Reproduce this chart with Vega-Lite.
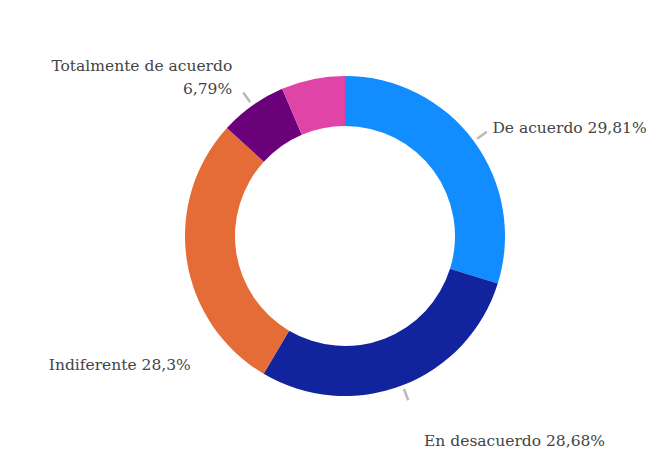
{
  "$schema": "https://vega.github.io/schema/vega-lite/v6.json",
  "width": 618,
  "height": 456,
  "autosize": "none",
  "padding": {"left": 36, "top": 8, "right": 0, "bottom": 0},
  "background": "white",
  "config": {"view": {"stroke": null}, "text": {"font": "DejaVu Serif", "fontSize": 15.5, "color": "#444444"}},
  "data": {"values": [
    {"category": "De acuerdo", "value": 29.81},
    {"category": "En desacuerdo", "value": 28.68},
    {"category": "Indiferente", "value": 28.3},
    {"category": "Totalmente de acuerdo", "value": 6.79},
    {"category": "Totalmente en desacuerdo", "value": 6.42}
  ]},
  "transform": [
    {"calculate": "datum.category + ' ' + replace(format(datum.value, '.2~f'), '.', ',') + '%'", "as": "lab"},
    {"calculate": "datum.category + '\\n' + replace(format(datum.value, '.2~f'), '.', ',') + '%'", "as": "lab2"}
  ],
  "layer": [
    {
      "mark": {"type": "arc", "outerRadius": 160, "innerRadius": 110},
      "encoding": {
        "theta": {"field": "value", "type": "quantitative", "stack": true, "scale": {"domain": [0, 100]}},
        "order": {"field": "value", "type": "quantitative", "sort": "descending"},
        "color": {"field": "category", "type": "nominal", "legend": null,
          "scale": {"domain": ["De acuerdo", "En desacuerdo", "Indiferente", "Totalmente de acuerdo", "Totalmente en desacuerdo"],
                    "range": ["#118DFF", "#12239E", "#E66C37", "#6B007B", "#E044A7"]}}
      }
    },
    {
      "transform": [
        {"stack": "value", "groupby": [], "as": ["s0", "s1"], "sort": [{"field": "value", "order": "descending"}]},
        {"filter": "datum.category !== 'Totalmente en desacuerdo' && datum.category !== 'Indiferente'"},
        {"calculate": "(datum.s0 + datum.s1) / 2 - 0.12", "as": "t0"},
        {"calculate": "(datum.s0 + datum.s1) / 2 + 0.12", "as": "t1"}
      ],
      "mark": {"type": "arc", "outerRadius": 176, "innerRadius": 164, "color": "#BBBBBB"},
      "encoding": {
        "theta": {"field": "t0", "type": "quantitative"},
        "theta2": {"field": "t1"}
      }
    },
    {
      "mark": {"type": "text", "radius": 183, "align": "left", "baseline": "middle"},
      "encoding": {
        "theta": {"field": "value", "type": "quantitative", "stack": true},
        "order": {"field": "value", "type": "quantitative", "sort": "descending"},
        "text": {"condition": {"test": "datum.category === 'De acuerdo'", "field": "lab"}, "value": ""}
      }
    },
    {
      "mark": {"type": "text", "radius": 220, "align": "left", "baseline": "middle"},
      "encoding": {
        "theta": {"field": "value", "type": "quantitative", "stack": true},
        "order": {"field": "value", "type": "quantitative", "sort": "descending"},
        "text": {"condition": {"test": "datum.category === 'En desacuerdo'", "field": "lab"}, "value": ""}
      }
    },
    {
      "mark": {"type": "text", "radius": 168, "align": "right", "baseline": "middle", "dx": 12, "dy": 104},
      "encoding": {
        "theta": {"field": "value", "type": "quantitative", "stack": true},
        "order": {"field": "value", "type": "quantitative", "sort": "descending"},
        "text": {"condition": {"test": "datum.category === 'Indiferente'", "field": "lab"}, "value": ""}
      }
    },
    {
      "mark": {"type": "text", "radius": 195, "align": "right", "baseline": "middle", "dy": -11, "lineBreak": "\n", "lineHeight": 23},
      "encoding": {
        "theta": {"field": "value", "type": "quantitative", "stack": true},
        "order": {"field": "value", "type": "quantitative", "sort": "descending"},
        "text": {"condition": {"test": "datum.category === 'Totalmente de acuerdo'", "field": "lab2"}, "value": ""}
      }
    }
  ]
}
